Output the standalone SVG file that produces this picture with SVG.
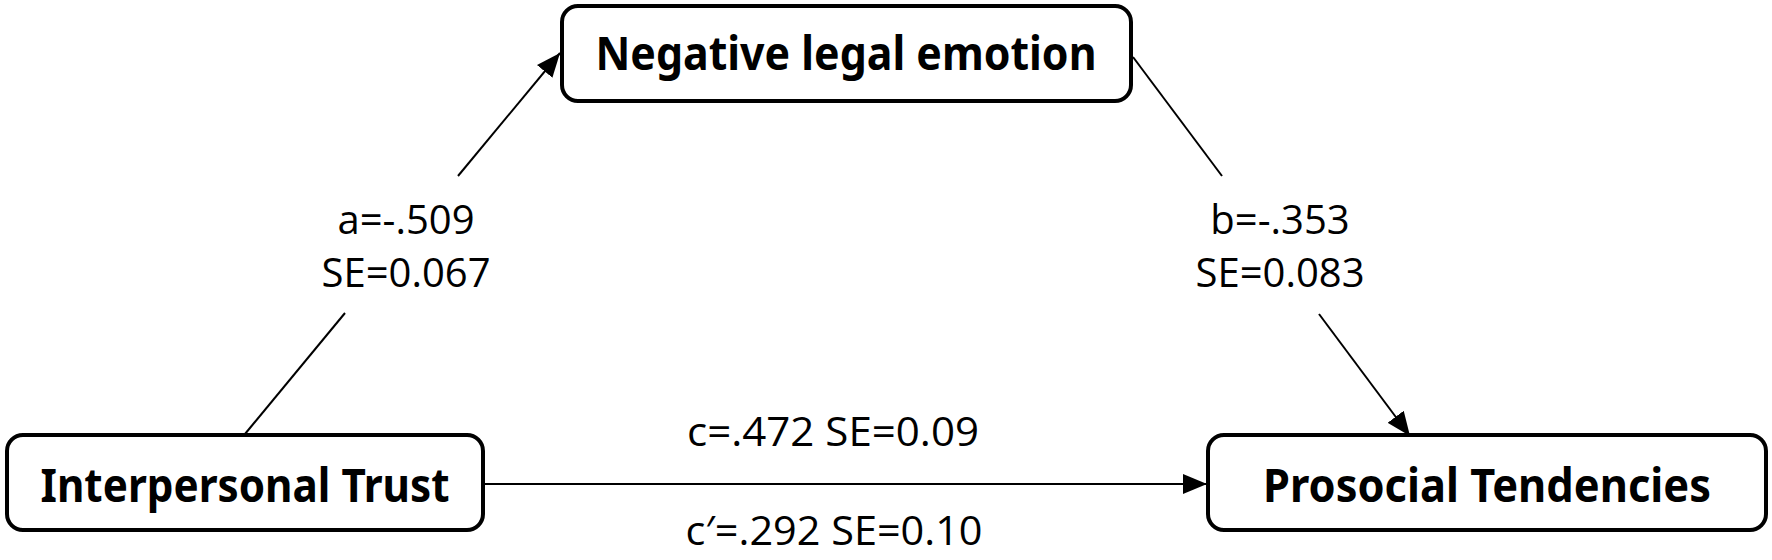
<svg xmlns="http://www.w3.org/2000/svg" width="1772" height="560" viewBox="0 0 1772 560">
<style>
.box{fill:#fff;stroke:#000;stroke-width:4}
.nt{font-family:"Noto Sans","Liberation Sans",sans-serif;font-weight:bold;font-size:46px;fill:#000;text-anchor:middle}
.lb{font-family:"Open Sans","Liberation Sans",sans-serif;font-size:40px;fill:#000;text-anchor:middle}
.ln{stroke:#000;stroke-width:2;fill:none}
</style>
<defs>
<marker id="ah" viewBox="0 0 24 20" refX="24" refY="10" markerWidth="24" markerHeight="20" markerUnits="userSpaceOnUse" orient="auto">
<path d="M0,0 L24,10 L0,20 Z" fill="#000"/>
</marker>
</defs>
<rect width="1772" height="560" fill="#fff"/>
<g id="connectors">
<line class="ln" x1="245" y1="434" x2="345" y2="313"/>
<line class="ln" x1="458" y1="176" x2="560" y2="53" marker-end="url(#ah)"/>
<line class="ln" x1="1133" y1="57" x2="1222" y2="176"/>
<line class="ln" x1="1319" y1="314" x2="1410" y2="436" marker-end="url(#ah)"/>
<line class="ln" x1="483" y1="484" x2="1207" y2="484" marker-end="url(#ah)"/>
<text class="lb" x="406" y="234">a=-.509</text>
<text class="lb" x="406" y="287">SE=0.067</text>
<text class="lb" x="1280" y="234">b=-.353</text>
<text class="lb" x="1280" y="287">SE=0.083</text>
<text class="lb" x="833" y="446" textLength="292" lengthAdjust="spacingAndGlyphs">c=.472 SE=0.09</text>
<text class="lb" x="834" y="545" textLength="297" lengthAdjust="spacingAndGlyphs">c′=.292 SE=0.10</text>
</g>
<g id="node-negative">
<rect class="box" x="562" y="6" width="569" height="95" rx="16"/>
<text class="nt" x="846" y="70" textLength="501" lengthAdjust="spacingAndGlyphs">Negative legal emotion</text>
</g>
<g id="node-trust">
<rect class="box" x="7" y="435" width="476" height="95" rx="16"/>
<text class="nt" x="245" y="502" textLength="409" lengthAdjust="spacingAndGlyphs">Interpersonal Trust</text>
</g>
<g id="node-prosocial">
<rect class="box" x="1208" y="435" width="558" height="95" rx="16"/>
<text class="nt" x="1487" y="502" textLength="448" lengthAdjust="spacingAndGlyphs">Prosocial Tendencies</text>
</g>
</svg>
